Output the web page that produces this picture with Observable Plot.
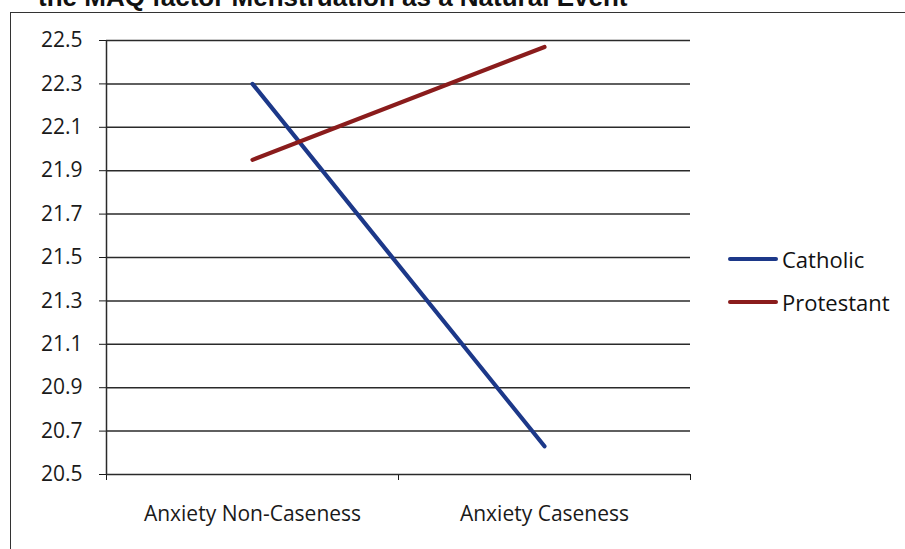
<!DOCTYPE html>
<html>
<head>
<meta charset="utf-8">
<script src="https://cdn.jsdelivr.net/npm/d3@7"></script>
<script src="https://cdn.jsdelivr.net/npm/@observablehq/plot@0.6"></script>
<style>
  body { margin: 0; background: #fff; }
  #wrap { position: relative; width: 905px; height: 549px; overflow: hidden; background: #fff; }
  #title { position: absolute; left: 38px; top: -16px; font: bold 26px/26px "Liberation Sans", Arial, sans-serif; white-space: nowrap; color: #111; }
  #frame { position: absolute; left: 10px; top: 12px; right: -5px; bottom: -5px; border-top: 1.5px solid #333; border-left: 1.5px solid #333; }
  #chart { position: absolute; left: 0; top: 0; }
  .item { position: absolute; left: 728px; height: 26px; display: flex; align-items: center; font: 22px "Open Sans", Lato, sans-serif; color: #111; }
  .swatch { display: inline-block; width: 50px; height: 4px; border-radius: 2px; margin-right: 4px; }
</style>
</head>
<body>
<div id="wrap">
  <div id="title">the MAQ factor Menstruation as a Natural Event</div>
  <div id="frame"></div>
  <div id="chart"></div>
  <div id="legend"></div>
</div>
<script>
// Mean MAQ score by anxiety caseness, per religious group
const groups = ["Anxiety Non-Caseness", "Anxiety Caseness"];
const seriesNames = ["Catholic", "Protestant"];
const catholic = [22.30, 20.63];
const protestant = [21.95, 22.47];
const seriesColors = ["#1c3889", "#8a1c1c"];
const yTicks = [20.5, 20.7, 20.9, 21.1, 21.3, 21.5, 21.7, 21.9, 22.1, 22.3, 22.5];

const values = {Catholic: catholic, Protestant: protestant};
// Each group sits in the middle of its unit-wide slot on the x scale
const rows = seriesNames.flatMap(s =>
  groups.map((g, i) => ({series: s, group: g, slot: i + 0.5, value: values[s][i]}))
);

const chart = Plot.plot({
  width: 905,
  height: 549,
  marginLeft: 106,
  marginRight: 215,
  marginTop: 40,
  marginBottom: 75,
  style: {fontFamily: "'Open Sans', Lato, sans-serif", fontSize: "21px", color: "#1a1a1a", background: "transparent"},
  x: {domain: [0, groups.length], ticks: d3.range(groups.length + 1), tickFormat: () => "", tickSize: 6, label: null},
  y: {domain: [yTicks[0], yTicks[yTicks.length - 1]], ticks: yTicks, tickFormat: d3.format(".1f"), tickSize: 7, tickPadding: 17, label: null},
  color: {domain: seriesNames, range: seriesColors},
  marks: [
    Plot.ruleY(yTicks, {stroke: "#2a2a2a", strokeWidth: 1.5}),
    Plot.ruleX([0], {stroke: "#2a2a2a", strokeWidth: 1.5}),
    Plot.line(rows, {x: "slot", y: "value", z: "series", stroke: "series", strokeWidth: 4.2, strokeLinecap: "round"}),
    Plot.text(groups, {x: (d, i) => i + 0.5, text: d => d, frameAnchor: "bottom", dy: 46, fill: "#1a1a1a"})
  ]
});
document.getElementById("chart").appendChild(chart);

// Legend to the right of the plot
const legend = document.getElementById("legend");
seriesNames.forEach((s, i) => {
  const item = document.createElement("div");
  item.className = "item";
  item.style.top = (246 + i * 43) + "px";
  const sw = document.createElement("span");
  sw.className = "swatch";
  sw.style.background = seriesColors[i];
  item.appendChild(sw);
  item.appendChild(document.createTextNode(s));
  legend.appendChild(item);
});
</script>
</body>
</html>
